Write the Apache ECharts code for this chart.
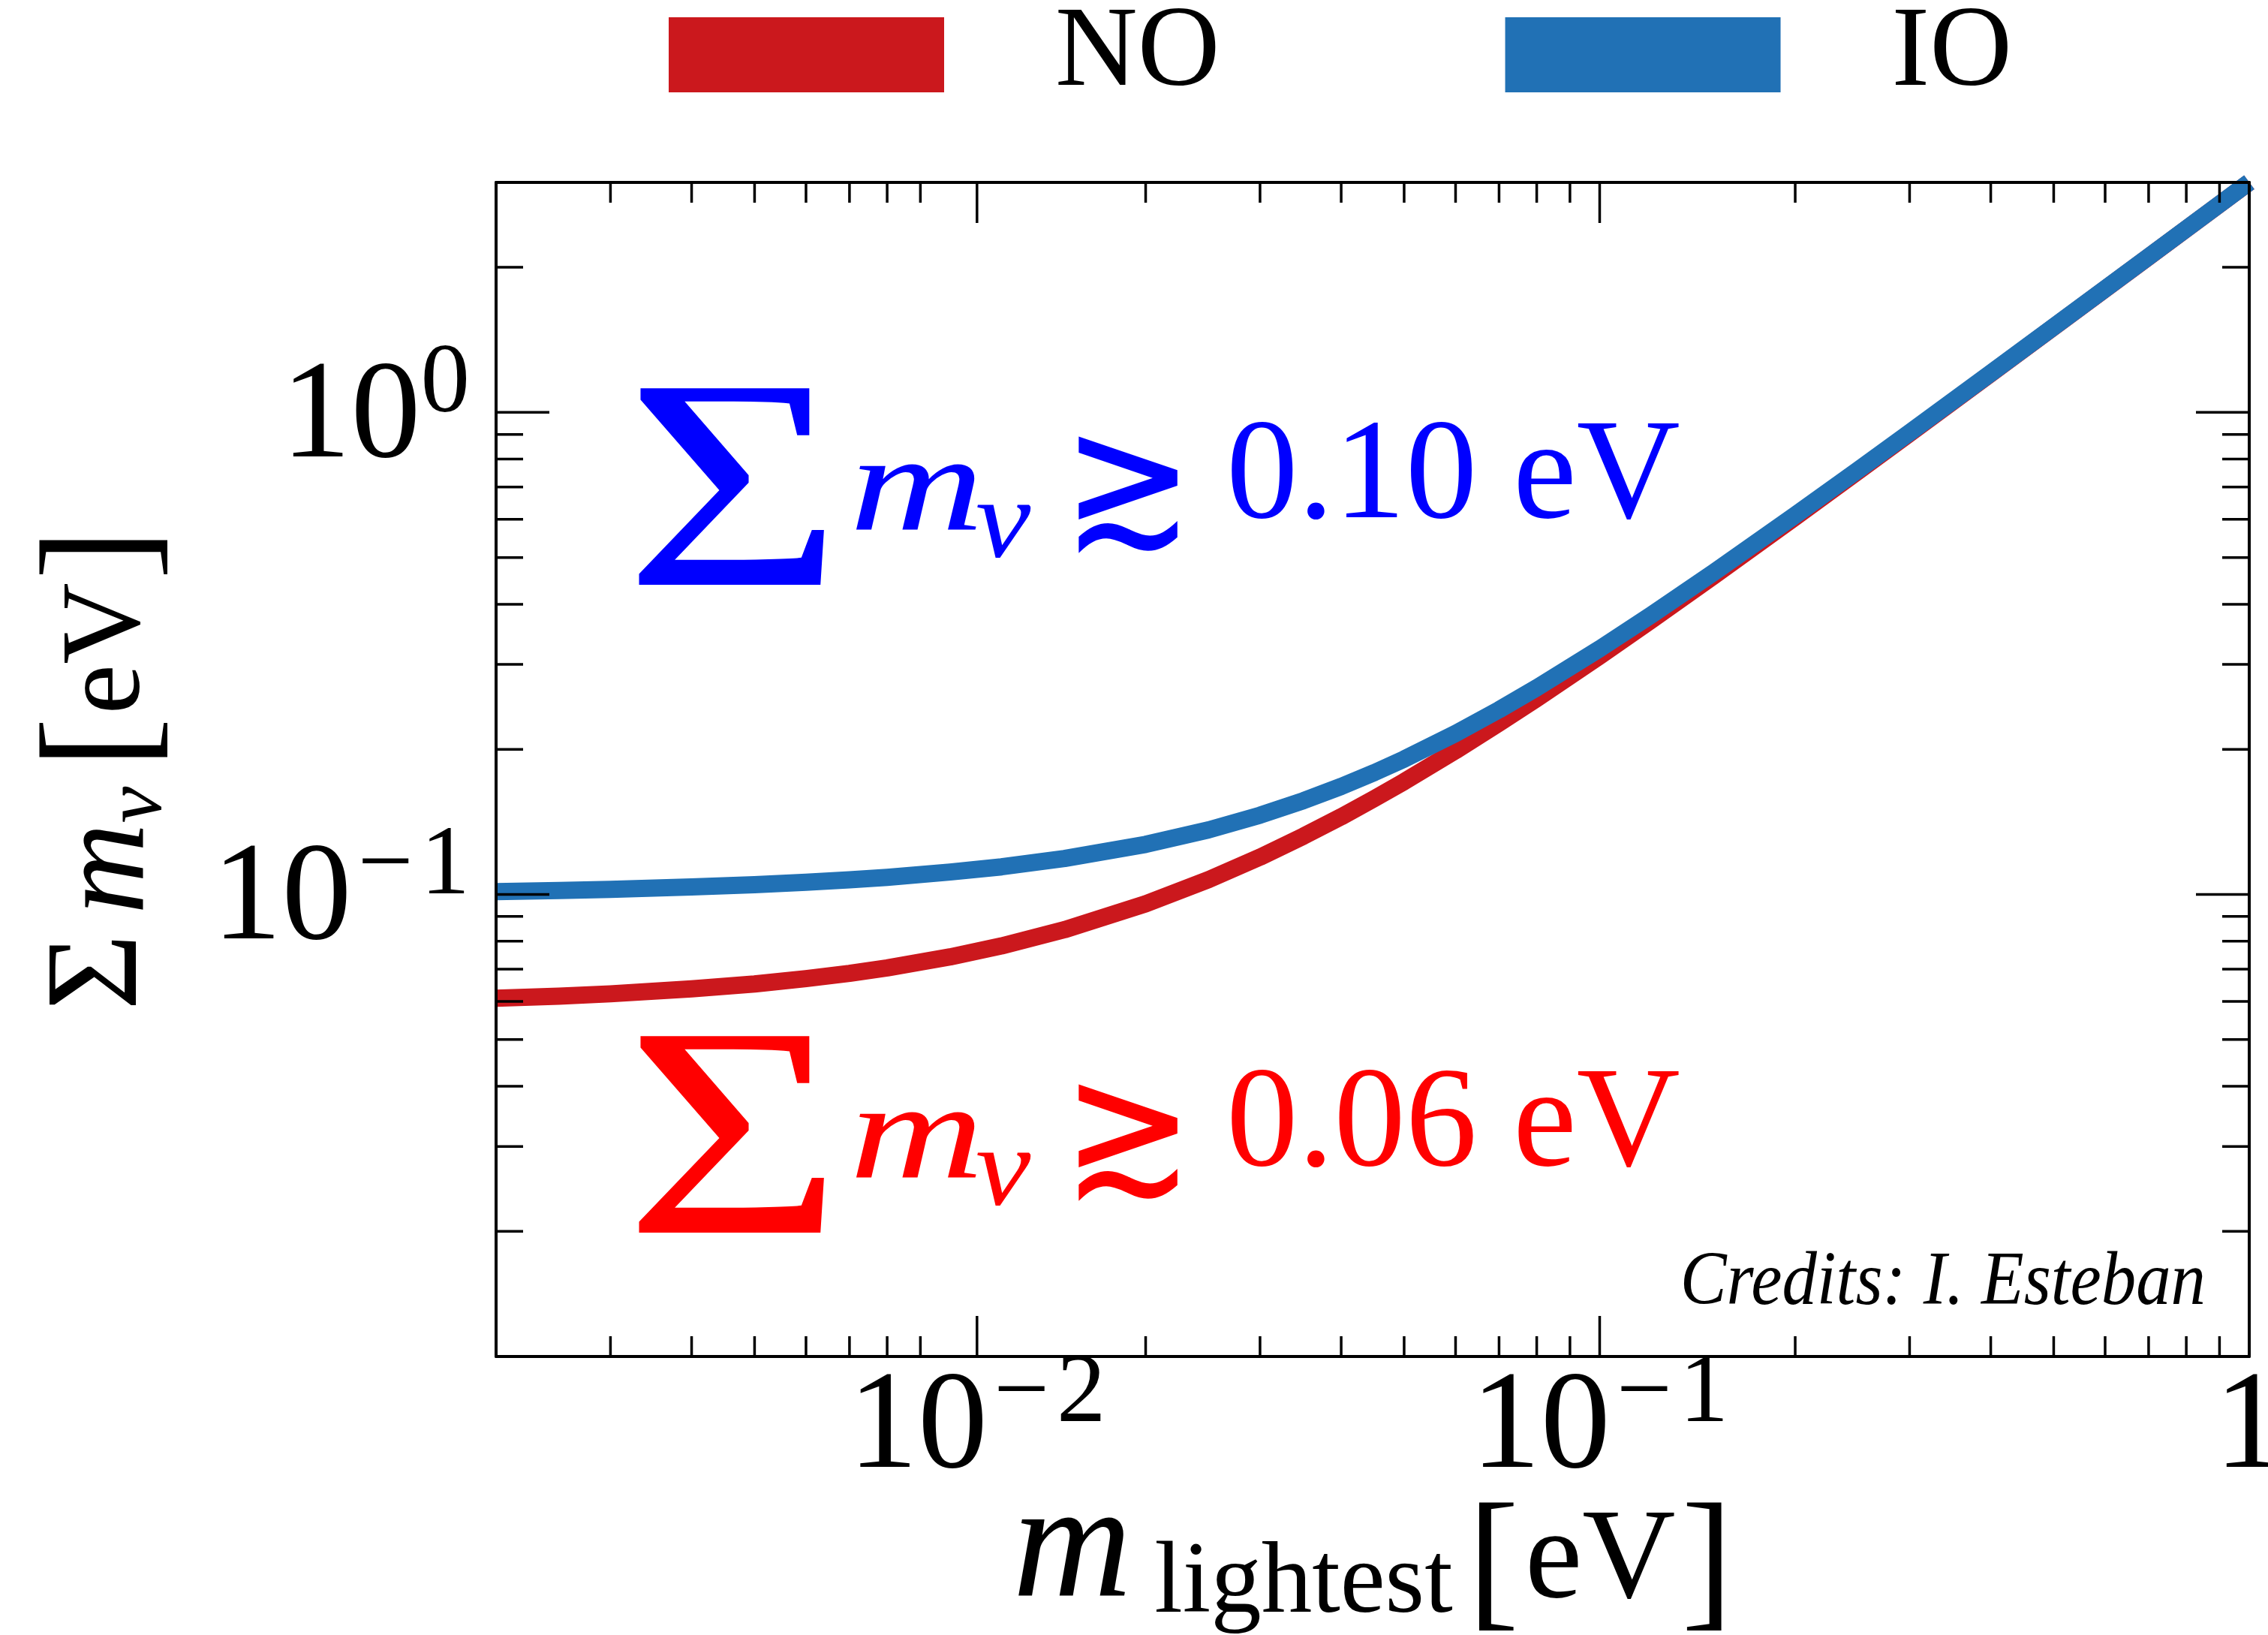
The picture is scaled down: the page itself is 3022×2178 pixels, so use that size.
<!DOCTYPE html>
<html><head><meta charset="utf-8">
<script src="https://cdn.jsdelivr.net/npm/echarts@6/dist/echarts.min.js"></script>
<style>html,body{margin:0;padding:0;background:#fff}#chart{width:3022px;height:2178px}</style>
</head><body><div id="chart"></div>
<script>
// ---- data ----
const lightestMass = [0.002, 0.0025, 0.003, 0.004, 0.005, 0.006, 0.007, 0.008, 0.01, 0.012, 0.015, 0.02, 0.025, 0.03, 0.035, 0.04, 0.045, 0.05, 0.06, 0.07, 0.08, 0.1, 0.12, 0.15, 0.2, 0.25, 0.3, 0.4, 0.5, 0.7, 1.0];
const sumNO = [0.0609, 0.0615, 0.0622, 0.0637, 0.0652, 0.0669, 0.0686, 0.0704, 0.0742, 0.0782, 0.0845, 0.0956, 0.1073, 0.1195, 0.1321, 0.1449, 0.1581, 0.1714, 0.1987, 0.2266, 0.2548, 0.3122, 0.3703, 0.4584, 0.6063, 0.7551, 0.9043, 1.2032, 1.5026, 2.1018, 3.0013];
const sumIO = [0.1013, 0.1019, 0.1024, 0.1036, 0.1048, 0.1060, 0.1072, 0.1085, 0.1113, 0.1141, 0.1187, 0.1270, 0.1361, 0.1460, 0.1565, 0.1675, 0.1790, 0.1909, 0.2157, 0.2416, 0.2683, 0.3233, 0.3797, 0.4660, 0.6121, 0.7598, 0.9082, 1.2061, 1.5049, 2.1035, 3.0025];
const seriesNames = ['NO', 'IO'];
const xRange = [0.002, 1];
const yRange = [0.011, 3];
// the "10^-2" major tick of the reference sits slightly right of 0.01
const xLabelValues = [0.011, 0.1, 1];
const xLabelTexts = ['10^-2', '10^-1', '1'];
const yLabelValues = [0.1, 1];
const xMajorTicks = [0.011, 0.1];
const xMinorTicks = [0.003, 0.004, 0.005, 0.006, 0.007, 0.008, 0.009, 0.02, 0.03, 0.04, 0.05, 0.06, 0.07, 0.08, 0.09, 0.2, 0.3, 0.4, 0.5, 0.6, 0.7, 0.8, 0.9];
const yMajorTicks = [0.1, 1];
const yMinorTicks = [0.02, 0.03, 0.04, 0.05, 0.06, 0.07, 0.08, 0.09, 0.2, 0.3, 0.4, 0.5, 0.6, 0.7, 0.8, 0.9, 2];
const boundNO = '0.06';
const boundIO = '0.10';

// ---- styling ----
const SERIF = '"Liberation Serif", "DejaVu Serif", serif';
const colNO = '#cb181d', colIO = '#2171b5';

function isIn(list, v) { return list.some(t => Math.abs(Math.log10(t) - Math.log10(v)) < 1e-6); }
function expLabel(v) {
  const e = Math.round(Math.log10(v));
  if (e === 0) return '{b|10}{s|0}';
  return '{b|10}{m|\u2212}{s|' + (-e) + '}';
}
function richFromText(t) {
  if (t.indexOf('^') < 0) return '{b|' + t + '}';
  const parts = t.split('^');
  const ex = parts[1];
  if (ex[0] === '-') return '{b|' + parts[0] + '}{m|\u2212}{s|' + ex.slice(1) + '}';
  return '{b|' + parts[0] + '}{s|' + ex + '}';
}
const tickRich = {
  b: { fontFamily: SERIF, fontSize: 186, lineHeight: 186, padding: [20, 0, 0, 0], color: '#000', fill: '#000' },
  s: { fontFamily: SERIF, fontSize: 131, lineHeight: 131, padding: [0, 0, 72, 0], color: '#000', fill: '#000' },
  m: { fontFamily: SERIF, fontSize: 131, lineHeight: 131, padding: [0, 10, 72, 8], color: '#000', fill: '#000' }
};

const xTickData = xMajorTicks.map(v => [v, yRange[0], 1]).concat(xMinorTicks.map(v => [v, yRange[0], 0]));
const yTickData = yMajorTicks.map(v => [xRange[0], v, 1]).concat(yMinorTicks.map(v => [xRange[0], v, 0]));
const xLabelData = xLabelValues.map((v, i) => [v, yRange[0], i]);
const TW = 3.5;
function renderXTick(params, api) {
  const cs = params.coordSys;
  const p = api.coord([api.value(0), api.value(1)]);
  const len = api.value(2) ? 54 : 27;
  const b = cs.y + cs.height, t = cs.y;
  const st = { stroke: '#000', lineWidth: TW };
  return { type: 'group', children: [
    { type: 'line', shape: { x1: p[0], y1: b, x2: p[0], y2: b - len }, style: st },
    { type: 'line', shape: { x1: p[0], y1: t, x2: p[0], y2: t + len }, style: st }
  ] };
}
function renderYTick(params, api) {
  const cs = params.coordSys;
  const p = api.coord([api.value(0), api.value(1)]);
  const len = api.value(2) ? 71 : 36;
  const l = cs.x, r = cs.x + cs.width;
  const st = { stroke: '#000', lineWidth: TW };
  return { type: 'group', children: [
    { type: 'line', shape: { x1: l, y1: p[1], x2: l + len, y2: p[1] }, style: st },
    { type: 'line', shape: { x1: r, y1: p[1], x2: r - len, y2: p[1] }, style: st }
  ] };
}
function renderXLabel(params, api) {
  const cs = params.coordSys;
  const p = api.coord([api.value(0), api.value(1)]);
  return { type: 'text', x: p[0], y: cs.y + cs.height - 5,
    style: { text: richFromText(xLabelTexts[api.value(2)]), rich: tickRich, fill: '#000', align: 'center', verticalAlign: 'top' } };
}

function annotation(dy, color, bound) {
  return [
    { type: 'text', x: 832, y: 674 + dy, scaleX: 1.25, z: 50, style: { text: '\u03A3', font: '400px ' + SERIF, fill: color, align: 'left', verticalAlign: 'middle' } },
    { type: 'text', x: 1132, y: 656 + dy, scaleX: 1.34, z: 50, style: { text: 'm', font: 'italic 185px ' + SERIF, fill: color, align: 'left', verticalAlign: 'middle' } },
    { type: 'text', x: 1300, y: 703 + dy, scaleX: 1.1, z: 50, style: { text: '\u03BD', font: 'italic 150px ' + SERIF, fill: color, align: 'left', verticalAlign: 'middle' } },
    { type: 'text', x: 1503, y: 662 + dy, scaleY: 1.25, scaleX: 1.05, z: 50, style: { text: '\u2273', font: '200px "DejaVu Sans", sans-serif', fill: color, align: 'center', verticalAlign: 'middle' } },
    { type: 'text', x: 1634, y: 639 + dy, z: 50, style: { text: bound + ' eV', font: '191px ' + SERIF, fill: color, align: 'left', verticalAlign: 'middle' } }
  ];
}

const chart = echarts.init(document.getElementById('chart'), null, { renderer: 'canvas' });
const logAxisBase = { type: 'log', logBase: 10, splitLine: { show: false }, axisTick: { show: false }, z: 10,
  axisLine: { show: true, lineStyle: { color: '#000', width: 4 } } };

chart.setOption({
  backgroundColor: '#fff',
  animation: false,
  grid: { left: 661, right: 25, top: 243, bottom: 371, containLabel: false, outerBoundsMode: 'none' },
  legend: {
    data: seriesNames, left: 886, top: -8, icon: 'rect', itemWidth: 367, itemHeight: 100, itemGap: 380,
    textStyle: { fontFamily: SERIF, fontSize: 152, color: '#000', padding: [0, 0, 0, 143] },
    selectedMode: false
  },
  xAxis: [
    Object.assign({}, logAxisBase, {
      min: xRange[0], max: xRange[1], position: 'bottom',
      axisLabel: { show: false },
      name: '{mi|m}{sub|lightest}{lb|[}{ev|eV}{rb|]}', nameLocation: 'middle', nameGap: 150, nameMoveOverlap: false,
      nameTextStyle: { rich: {
        mi: { fontFamily: SERIF, fontStyle: 'italic', fontSize: 220, lineHeight: 220, padding: [0, 30, 0, 0], color: '#000' },
        sub: { fontFamily: SERIF, fontSize: 135, lineHeight: 135, padding: [90, 20, 0, 0], color: '#000' },
        lb: { fontFamily: SERIF, fontSize: 205, lineHeight: 205, padding: [46, 8, 0, 0], color: '#000' },
        ev: { fontFamily: SERIF, fontSize: 172, lineHeight: 172, padding: [30, 8, 0, 0], color: '#000' },
        rb: { fontFamily: SERIF, fontSize: 205, lineHeight: 205, padding: [46, 0, 0, 0], color: '#000' }
      } }
    }),
    Object.assign({}, logAxisBase, { min: xRange[0], max: xRange[1], position: 'top', axisLabel: { show: false } })
  ],
  yAxis: [
    Object.assign({}, logAxisBase, {
      min: yRange[0], max: yRange[1], position: 'left',
      axisLabel: { show: true, margin: 35, rich: tickRich, formatter: v => isIn(yLabelValues, v) ? expLabel(v) : '' },
      name: '{sig|\u03A3}{mi|m}{nu|\u03BD}{lb|[}{ev|eV}{rb|]}', nameLocation: 'middle', nameRotate: 90, nameGap: 413, nameMoveOverlap: false,
      nameTextStyle: { rich: {
        sig: { fontFamily: SERIF, fontSize: 175, lineHeight: 175, padding: [0, 26, 20, 0], color: '#000' },
        mi: { fontFamily: SERIF, fontStyle: 'italic', fontSize: 168, lineHeight: 168, color: '#000' },
        nu: { fontFamily: SERIF, fontStyle: 'italic', fontSize: 110, lineHeight: 110, padding: [80, 24, 0, 0], color: '#000' },
        lb: { fontFamily: SERIF, fontSize: 205, lineHeight: 205, padding: [0, 4, 8, 0], color: '#000' },
        ev: { fontFamily: SERIF, fontSize: 150, lineHeight: 150, color: '#000' },
        rb: { fontFamily: SERIF, fontSize: 205, lineHeight: 205, padding: [0, 0, 8, 4], color: '#000' }
      } }
    }),
    Object.assign({}, logAxisBase, { min: yRange[0], max: yRange[1], position: 'right', axisLabel: { show: false } })
  ],
  series: [
    { name: seriesNames[0], type: 'line', color: colNO, xAxisIndex: 0, yAxisIndex: 0, showSymbol: false, symbol: 'none',
      smooth: false, lineStyle: { width: 23, color: colNO, join: 'round', cap: 'butt' }, itemStyle: { color: colNO }, z: 2,
      data: lightestMass.map((x, i) => [x, sumNO[i]]) },
    { name: seriesNames[1], type: 'line', color: colIO, xAxisIndex: 0, yAxisIndex: 0, showSymbol: false, symbol: 'none',
      smooth: false, lineStyle: { width: 23, color: colIO, join: 'round', cap: 'butt' }, itemStyle: { color: colIO }, z: 3,
      data: lightestMass.map((x, i) => [x, sumIO[i]]) },
    { type: 'custom', name: 'xticks', xAxisIndex: 0, yAxisIndex: 0, renderItem: renderXTick, data: xTickData, z: 20, silent: true, clip: false },
    { type: 'custom', name: 'yticks', xAxisIndex: 0, yAxisIndex: 0, renderItem: renderYTick, data: yTickData, z: 20, silent: true, clip: false },
    { type: 'custom', name: 'xlabels', xAxisIndex: 0, yAxisIndex: 0, renderItem: renderXLabel, data: xLabelData, z: 20, silent: true, clip: false }
  ],
  graphic: annotation(0, '#0000ff', boundIO).concat(annotation(863, '#ff0000', boundNO)).concat([
    { type: 'text', x: 2939, y: 1710, scaleX: 0.91, z: 50, style: { text: 'Credits: I. Esteban', font: 'italic 102px ' + SERIF, fill: '#000', align: 'right', verticalAlign: 'middle' } }
  ])
});
</script></body></html>
